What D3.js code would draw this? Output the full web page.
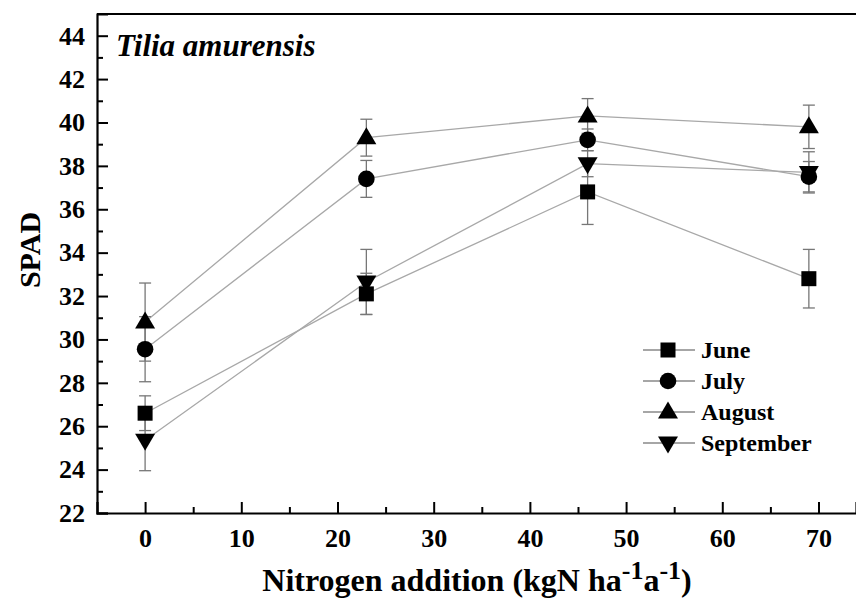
<!DOCTYPE html>
<html>
<head>
<meta charset="utf-8">
<script src="https://cdn.jsdelivr.net/npm/d3@7"></script>
<style>
  body { margin: 0; background: #fff; }
</style>
</head>
<body>
<div id="chart"></div>
<script>
// nitrogen levels (kgN ha-1 a-1)
const nLevels = [0, 23, 46, 69];
const months = ["June", "July", "August", "September"];
const symbols = ["square", "circle", "triangle", "triangleDown"];

const june = [26.6, 32.1, 36.8, 32.8];
const juneErr = [0.8, 0.95, 1.5, 1.35];
const july = [29.55, 37.4, 39.2, 37.5];
const julyErr = [1.5, 0.85, 0.5, 0.7];
const august = [30.8, 39.3, 40.3, 39.8];
const augustErr = [1.8, 0.85, 0.8, 1.0];
const september = [25.35, 32.65, 38.1, 37.7];
const septemberErr = [1.4, 1.5, 0.6, 0.95];

const xTicks = [0, 10, 20, 30, 40, 50, 60, 70];
const yTicks = [22, 24, 26, 28, 30, 32, 34, 36, 38, 40, 42, 44];

const series = [
  {name: months[0], sym: symbols[0], values: june, err: juneErr},
  {name: months[1], sym: symbols[1], values: july, err: julyErr},
  {name: months[2], sym: symbols[2], values: august, err: augustErr},
  {name: months[3], sym: symbols[3], values: september, err: septemberErr}
];

const W = 856, H = 600;
const margin = {top: 14, right: 0, bottom: 87, left: 97};
const serif = '"Liberation Serif"';

const svg = d3.select("#chart").append("svg")
  .attr("width", W)
  .attr("height", H);

const x = d3.scaleLinear().domain([-5, 73.9]).range([margin.left, W - margin.right]);
const y = d3.scaleLinear().domain([22, 45]).range([H - margin.bottom, margin.top]);

// marker shapes
function marker(g, sym, cx, cy) {
  if (sym === "square") {
    g.append("rect").attr("x", cx - 7.5).attr("y", cy - 7.5).attr("width", 15).attr("height", 15).attr("fill", "#000");
  } else if (sym === "circle") {
    g.append("circle").attr("cx", cx).attr("cy", cy).attr("r", 8.3).attr("fill", "#000");
  } else if (sym === "triangle") {
    g.append("path").attr("d", `M${cx},${cy - 10.5}L${cx + 10},${cy + 6.5}L${cx - 10},${cy + 6.5}Z`).attr("fill", "#000");
  } else {
    g.append("path").attr("d", `M${cx},${cy + 10.5}L${cx + 10},${cy - 6.5}L${cx - 10},${cy - 6.5}Z`).attr("fill", "#000");
  }
}

const line = d3.line().x((d, i) => x(nLevels[i])).y(d => y(d));

// connecting lines
svg.append("g").selectAll("path.ln")
  .data(series).enter().append("path")
  .attr("d", d => line(d.values))
  .attr("fill", "none")
  .attr("stroke", "#a8a8a8")
  .attr("stroke-width", 1.3);

// error bars
const eb = svg.append("g").attr("stroke", "#777").attr("stroke-width", 1.3);
series.forEach(s => {
  s.values.forEach((v, i) => {
    const cx = x(nLevels[i]);
    const y1 = y(v + s.err[i]), y0 = y(v - s.err[i]);
    eb.append("line").attr("x1", cx).attr("x2", cx).attr("y1", y1).attr("y2", y0);
    eb.append("line").attr("x1", cx - 6).attr("x2", cx + 6).attr("y1", y1).attr("y2", y1);
    eb.append("line").attr("x1", cx - 6).attr("x2", cx + 6).attr("y1", y0).attr("y2", y0);
  });
});

// markers
const mk = svg.append("g");
series.forEach(s => {
  s.values.forEach((v, i) => marker(mk, s.sym, x(nLevels[i]), y(v)));
});

// axes with inward ticks
const xAxis = svg.append("g")
  .attr("transform", `translate(0,${y(22)})`)
  .call(d3.axisBottom(x).tickValues(xTicks).tickSize(-11).tickPadding(14).tickFormat(d3.format("d")));
svg.append("g")
  .attr("transform", `translate(0,${y(22)})`)
  .call(d3.axisBottom(x).tickValues(d3.range(5, 75, 10)).tickSize(-6).tickFormat(""))
  .call(g => g.select(".domain").remove());
const yAxis = svg.append("g")
  .attr("transform", `translate(${x(-5)},0)`)
  .call(d3.axisLeft(y).tickValues(yTicks).tickSize(-11).tickPadding(12).tickFormat(d3.format("d")));
svg.append("g")
  .attr("transform", `translate(${x(-5)},0)`)
  .call(d3.axisLeft(y).tickValues(d3.range(23, 45, 2)).tickSize(-6).tickFormat(""))
  .call(g => g.select(".domain").remove());

svg.selectAll(".tick line").attr("stroke", "#000").attr("stroke-width", 2);
svg.selectAll(".domain").attr("stroke", "#000").attr("stroke-width", 2.2);
svg.selectAll(".tick text")
  .style("font-family", serif).style("font-size", "26px").style("font-weight", "bold")
  .attr("fill", "#000");
xAxis.selectAll(".tick text").attr("dy", "0.75em");

// top frame line
svg.append("line")
  .attr("x1", x(-5)).attr("x2", W).attr("y1", y(45)).attr("y2", y(45))
  .attr("stroke", "#000").attr("stroke-width", 2.2);

// species label
svg.append("text")
  .attr("x", 116).attr("y", 56)
  .style("font-family", serif).style("font-size", "31px")
  .style("font-weight", "bold").style("font-style", "italic")
  .text("Tilia amurensis");

// axis titles
svg.append("text")
  .attr("transform", "translate(40,250) rotate(-90)")
  .attr("text-anchor", "middle")
  .style("font-family", serif).style("font-size", "30px").style("font-weight", "bold")
  .text("SPAD");

const xt = svg.append("text")
  .attr("x", 477).attr("y", 591)
  .attr("text-anchor", "middle")
  .style("font-family", serif).style("font-size", "32px").style("font-weight", "bold");
xt.append("tspan").text("Nitrogen addition (kgN ha");
xt.append("tspan").attr("dy", -12).style("font-size", "26px").text("-1");
xt.append("tspan").attr("dy", 12).text("a");
xt.append("tspan").attr("dy", -12).style("font-size", "26px").text("-1");
xt.append("tspan").attr("dy", 12).text(")");

// legend
const leg = svg.append("g");
series.forEach((s, i) => {
  const ly = 350 + i * 31;
  leg.append("line").attr("x1", 643).attr("x2", 695).attr("y1", ly).attr("y2", ly)
    .attr("stroke", "#888").attr("stroke-width", 1.3);
  marker(leg, s.sym, 668, ly);
  leg.append("text").attr("x", 701).attr("y", ly + 8)
    .style("font-family", serif).style("font-size", "24px").style("font-weight", "bold")
    .text(s.name);
});
</script>
</body>
</html>
